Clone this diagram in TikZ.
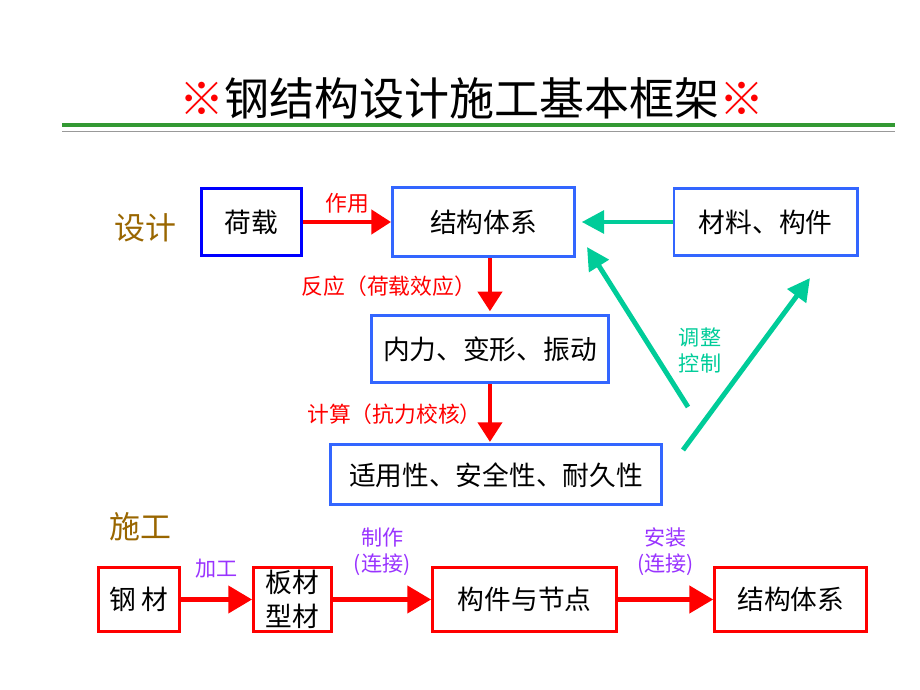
\documentclass[tikz,border=0pt]{standalone}
\usepackage{fontspec}
\setmainfont{Noto Sans CJK SC}
\usepackage{tikz}
\usetikzlibrary{positioning, arrows.meta}

\definecolor{loadblue}{RGB}{0,0,255}
\definecolor{boxblue}{RGB}{51,102,255}
\definecolor{adjgreen}{RGB}{0,204,153}
\definecolor{rulegreen}{RGB}{51,153,51}
\definecolor{stagebrown}{RGB}{153,102,0}
\definecolor{doingpurple}{RGB}{153,51,255}

\begin{document}
\begin{tikzpicture}[x=0.025cm, y=-0.025cm, node distance=2cm, on grid, auto,
    box/.style={draw, line width=2.1pt, inner sep=0pt, font=\fontsize{19}{23}\selectfont},
    design/.style={box, draw=boxblue},
    build/.style={box, draw=red},
    redarrow/.style={draw=red, line width=3.2pt, -{Triangle[length=14pt, width=17pt]}},
    buildarrow/.style={draw=red, line width=3.6pt, -{Triangle[length=17pt, width=19pt]}},
    greenarrow/.style={draw=adjgreen, line width=3.5pt, -{Triangle[length=16pt, width=16pt]}},
    redtext/.style={text=red, font=\fontsize{15.5}{18}\selectfont},
    doing/.style={text=doingpurple, font=\fontsize{15}{18.5}\selectfont, align=center},
    stage/.style={text=stagebrown, font=\fontsize{22}{26}\selectfont}]
      \useasboundingbox (0,0) rectangle (920,690);

      % title and rules
      \node[font=\fontsize{32}{36}\selectfont] (title) at (472,98)
        {\textcolor{red}{※}钢结构设计施工基本框架\textcolor{red}{※}};
      \draw[rulegreen, line width=3pt] (62,125) -- (895,125);
      \draw[black!40, line width=0.7pt] (62,131.5) -- (895,131.5);

      % design
      \node[stage] (sj) at (145,228) {设计};
      \node[design, draw=loadblue, minimum width=2.5cm, minimum height=1.68cm] (d_0) at (251.5,222) {荷载};
      \node[design, minimum width=4.55cm, minimum height=1.73cm] (d_1) [right=5.8cm of d_0] {结构体系};
      \node[design, minimum width=4.58cm, minimum height=1.68cm] (d_2) [right=7.05cm of d_1] {材料、构件};
      \node[design, minimum width=5.93cm, minimum height=1.68cm] (d_3) [below right=3.18cm and 0.16cm of d_1] {内力、变形、振动};
      \node[design, minimum width=8.28cm, minimum height=1.5cm] (d_4) [below right=3.14cm and 0.15cm of d_3] {适用性、安全性、耐久性};

      \path (d_0) edge[redarrow] node[redtext, above=1pt] {作用} (d_1);
      \draw[redarrow, shorten >=2pt] (d_1.south -| d_3) -- node[redtext, left=5pt] {反应（荷载效应）} (d_3.north);
      \draw[redarrow, shorten >=1pt] (d_3.south) -- node[redtext, left=1pt] {计算（抗力校核）} (d_3.south |- d_4.north);

      % adjust and control
      \coordinate (g_0) at (688,407);
      \coordinate (g_1) at (587,247);
      \coordinate (g_2) at (683,450);
      \coordinate (g_3) at (810,278);
      \draw[greenarrow, shorten >=4pt] (d_2) -- (d_1);
      \draw[greenarrow] (g_0) -- (g_1);
      \draw[greenarrow] (g_2) -- (g_3);
      \node[text=adjgreen, font=\fontsize{15}{18.5}\selectfont, align=left] (tz) at (700,350) {调整\\控制};

      % construction
      \node[stage] (sg) at (140,527) {施工};
      \node[build, minimum width=2.03cm, minimum height=1.6cm] (c_0) at (139,599.5) {钢 材};
      \node[build, minimum width=1.95cm, minimum height=1.6cm, align=left,
            font=\fontsize{19}{24.5}\selectfont] (c_1) [right=3.84cm of c_0] {板材\\型材};
      \node[build, minimum width=4.6cm, minimum height=1.6cm] (c_2) [right=5.8cm of c_1] {构件与节点};
      \node[build, minimum width=3.8cm, minimum height=1.6cm] (c_3) [right=6.65cm of c_2] {结构体系};

      \path (c_0) edge[buildarrow] node[doing, above=10pt] {加工} (c_1)
            (c_1) edge[buildarrow] node[doing, above=12pt] {制作\\(连接)} (c_2)
            (c_2) edge[buildarrow] node[doing, above=12pt] {安装\\(连接)} (c_3);
    \end{tikzpicture}
\end{document}
